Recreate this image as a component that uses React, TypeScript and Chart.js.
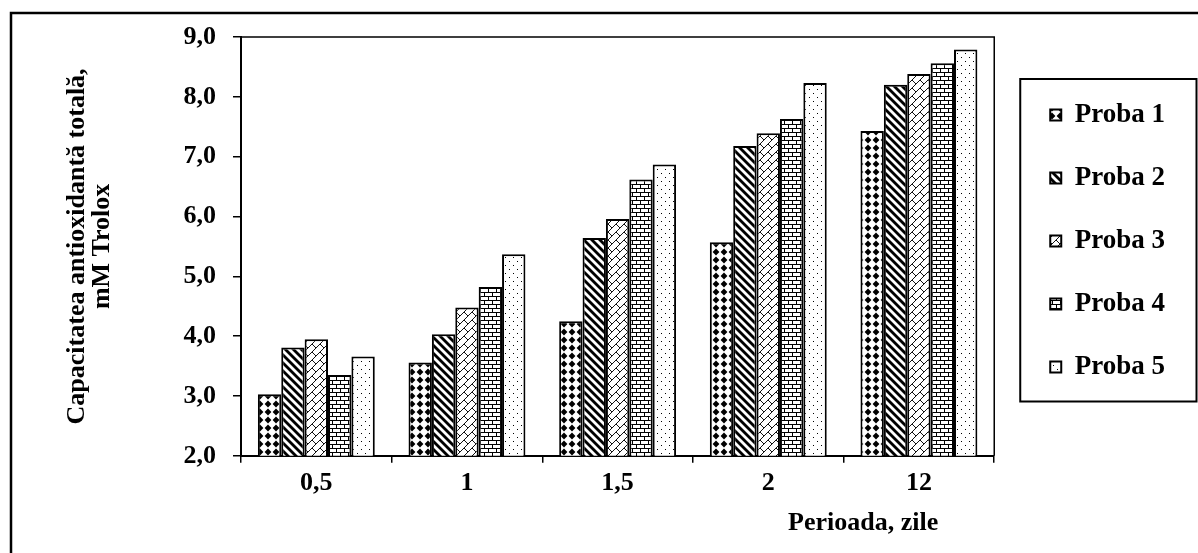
import React, { useEffect, useRef } from 'react';
import { Chart, registerables } from 'chart.js';

Chart.register(...registerables);

const categories = ['0,5', '1', '1,5', '2', '12'];
const seriesNames = ['Proba 1', 'Proba 2', 'Proba 3', 'Proba 4', 'Proba 5'];
const proba1 = [3.03, 3.56, 4.25, 5.57, 7.43];
const proba2 = [3.81, 4.03, 5.64, 7.18, 8.2];
const proba3 = [3.95, 4.48, 5.96, 7.39, 8.38];
const proba4 = [3.35, 4.82, 6.62, 7.63, 8.56];
const proba5 = [3.66, 5.37, 6.87, 8.23, 8.79];
const yMin = 2;
const yMax = 9;
const yStep = 1;
const yTitleLines = ['Capacitatea antioxidantă totală,', 'mM Trolox'];
const xTitle = 'Perioada, zile';

const FONT = "'Liberation Serif', 'Times New Roman', serif";

function makePattern(kind: number): CanvasPattern {
  const c = document.createElement('canvas');
  const g = c.getContext('2d')!;
  if (kind === 0) {
    c.width = 8; c.height = 8;
    g.fillStyle = '#fff'; g.fillRect(0, 0, 8, 8);
    g.fillStyle = '#000';
    g.beginPath();
    g.moveTo(4, 0.6); g.lineTo(7.4, 4); g.lineTo(4, 7.4); g.lineTo(0.6, 4); g.closePath();
    g.fill();
  } else if (kind === 1) {
    c.width = 8; c.height = 8;
    g.fillStyle = '#fff'; g.fillRect(0, 0, 8, 8);
    g.strokeStyle = '#000'; g.lineWidth = 2.8;
    for (const x0 of [-8, 0, 8]) {
      g.beginPath(); g.moveTo(x0 - 1, -1); g.lineTo(x0 + 9, 9); g.stroke();
    }
  } else if (kind === 2) {
    c.width = 16; c.height = 16;
    g.fillStyle = '#fff'; g.fillRect(0, 0, 16, 16);
    g.strokeStyle = '#111'; g.lineWidth = 1;
    for (let s = -16; s <= 48; s += 8) {
      g.beginPath(); g.moveTo(s + 2, -2); g.lineTo(-2, s + 2); g.stroke();
    }
    for (let k = -4; k <= 6; k++) {
      for (let m = -3; m <= 3; m++) {
        const u = (((k % 2) + 2) % 2) * 8 + 16 * m;
        const s0 = 8 * k;
        const s1 = s0 + 8;
        g.beginPath();
        g.moveTo((s0 + u) / 2, (s0 - u) / 2);
        g.lineTo((s1 + u) / 2, (s1 - u) / 2);
        g.stroke();
      }
    }
  } else if (kind === 3) {
    c.width = 8; c.height = 8;
    g.fillStyle = '#fff'; g.fillRect(0, 0, 8, 8);
    g.fillStyle = '#000';
    g.fillRect(0, 0, 8, 1);
    g.fillRect(0, 4, 8, 1);
    g.fillRect(0, 0, 1, 4);
    g.fillRect(4, 4, 1, 4);
  } else {
    c.width = 8; c.height = 8;
    g.fillStyle = '#fff'; g.fillRect(0, 0, 8, 8);
    g.fillStyle = '#000';
    g.fillRect(1, 1, 1, 1);
    g.fillRect(5, 5, 1, 1);
  }
  return g.createPattern(c, 'repeat')!;
}

export default function App() {
  const ref = useRef<HTMLCanvasElement>(null);
  useEffect(() => {
    const canvas = ref.current!;
    const seriesValues = [proba1, proba2, proba3, proba4, proba5];
    const pats = seriesValues.map((_, i) => makePattern(i));

    const decor = {
      id: 'decor',
      beforeDraw(chart: any) {
        const { ctx, width, height } = chart;
        ctx.save();
        ctx.fillStyle = '#fff';
        ctx.fillRect(0, 0, width, height);
        ctx.strokeStyle = '#000';
        ctx.lineWidth = 2.5;
        ctx.beginPath();
        ctx.moveTo(11, height);
        ctx.lineTo(11, 13);
        ctx.lineTo(width, 13);
        ctx.stroke();
        ctx.restore();
      },
      afterDraw(chart: any) {
        const { ctx, chartArea: a } = chart;
        ctx.save();
        ctx.strokeStyle = '#000';
        ctx.lineWidth = 1.5;
        ctx.beginPath();
        ctx.moveTo(a.left, a.top);
        ctx.lineTo(a.right, a.top);
        ctx.lineTo(a.right, a.bottom);
        ctx.stroke();
        const lg = chart.legend;
        const hb = lg.legendHitBoxes;
        if (hb && hb.length) {
          const top = hb[0].top - 22.5;
          const last = hb[hb.length - 1];
          const bottom = last.top + last.height + 21;
          ctx.lineWidth = 2;
          const left = lg.left + 6;
          ctx.strokeRect(left, top, chart.width - 1.5 - left, bottom - top);
        }
        ctx.font = `bold 26px ${FONT}`;
        ctx.fillStyle = '#000';
        ctx.textAlign = 'center';
        ctx.textBaseline = 'middle';
        ctx.fillText(xTitle, a.left + (a.right - a.left) * 0.826, a.bottom + 67);
        ctx.restore();
      },
    };

    const chart = new Chart(canvas, {
      type: 'bar',
      data: {
        labels: categories,
        datasets: seriesValues.map((vals, i) => ({
          label: seriesNames[i],
          data: vals,
          backgroundColor: pats[i],
          borderColor: '#000',
          borderWidth: 2,
          categoryPercentage: 0.776,
          barPercentage: 1.0,
        })),
      },
      options: {
        animation: false,
        responsive: true,
        maintainAspectRatio: false,
        layout: { padding: { left: 12, top: 37, right: 23, bottom: 49 } },
        plugins: {
          tooltip: { enabled: false },
          legend: {
            position: 'right',
            fullSize: false,
            align: 'start',
            title: {
              display: true,
              text: ' ',
              font: { size: 10, lineHeight: 1 },
              padding: { top: 18.5, bottom: 0 },
            },
            labels: {
              color: '#000',
              font: { family: FONT, size: 27, weight: 'bold' },
              boxWidth: 11,
              boxHeight: 11,
              padding: 36,
            },
          },
        },
        scales: {
          x: {
            ticks: { color: '#000', font: { family: FONT, size: 26, weight: 'bold' }, padding: 5 },
            grid: { offset: true, drawOnChartArea: false, drawTicks: true, tickLength: 7, color: '#000', lineWidth: 1.5 },
            border: { display: true, color: '#000', width: 2 },
          },
          y: {
            min: yMin,
            max: yMax,
            afterFit: (s: any) => { s.width = 229; },
            ticks: {
              stepSize: yStep,
              color: '#000',
              font: { family: FONT, size: 26, weight: 'bold' },
              padding: 17,
              callback: (v: any) => Number(v).toFixed(1).replace('.', ','),
            },
            grid: { drawOnChartArea: false, drawTicks: true, tickLength: 8, color: '#000', lineWidth: 1.5 },
            border: { display: true, color: '#000', width: 2 },
            title: {
              display: true,
              text: yTitleLines,
              color: '#000',
              font: { family: FONT, size: 26, weight: 'bold', lineHeight: 0.96 },
              padding: { top: 53, bottom: 95 },
            },
          },
          yPad: {
            position: 'right',
            display: true,
            grid: { display: false, drawTicks: false },
            ticks: { display: false },
            border: { display: false },
            afterFit: (s: any) => { s.width = 20; },
          },
        },
      } as any,
      plugins: [decor],
    });
    return () => chart.destroy();
  }, []);

  return (
    <div style={{ position: 'fixed', left: 0, top: 0, width: 1198, height: 553, background: '#fff' }}>
      <canvas ref={ref} />
    </div>
  );
}
